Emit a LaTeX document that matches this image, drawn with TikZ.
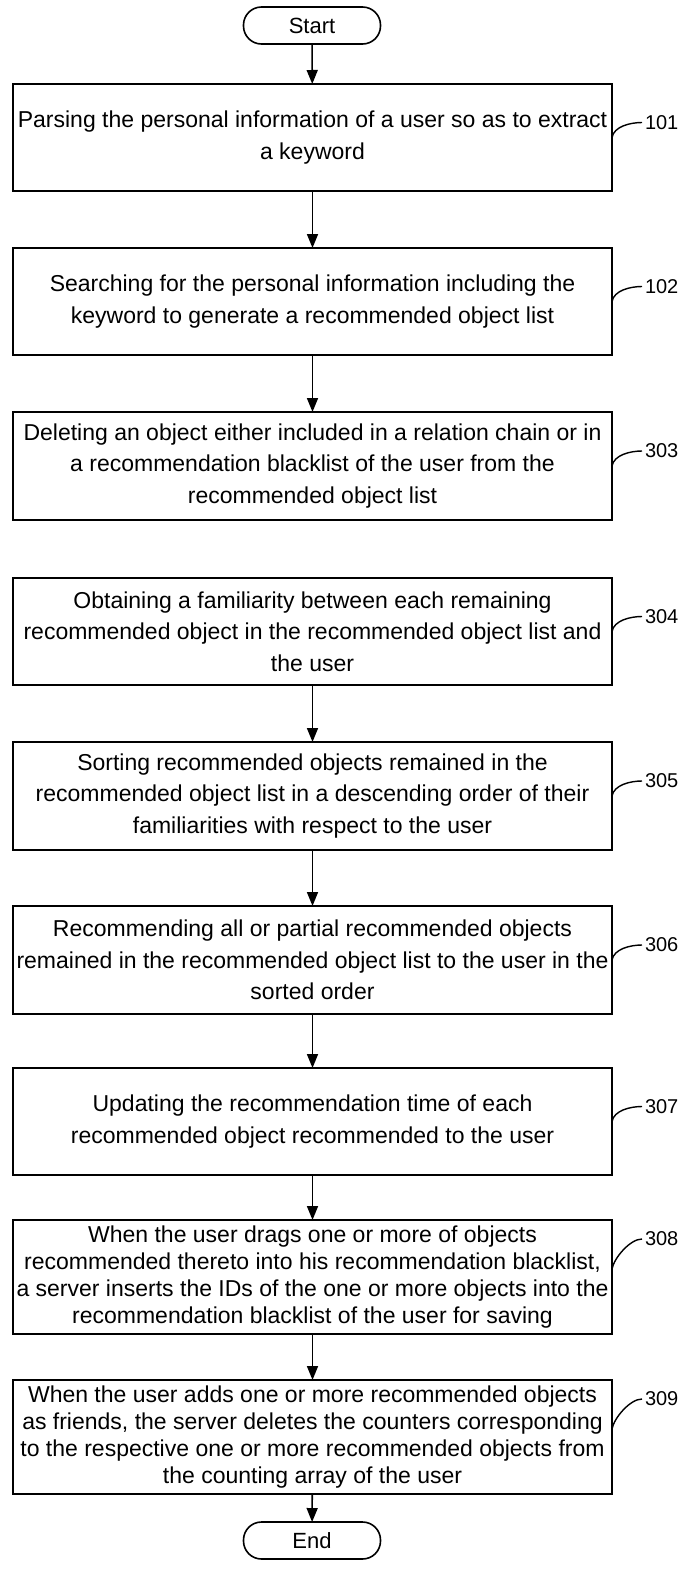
\documentclass[tikz,border=0pt]{standalone}
\usepackage{fontspec}
\setmainfont{Liberation Sans}
\usetikzlibrary{arrows.meta}
\begin{document}
\begin{tikzpicture}[x=1pt,y=-1pt,
  every node/.style={inner sep=0pt,outer sep=0pt},
  stepbox/.style={draw,line width=1.6pt,minimum width=599pt},
  txt/.style={align=center,font=\fontsize{23}{31.5}\selectfont},
  txtfour/.style={align=center,font=\fontsize{23}{27}\selectfont},
  term/.style={draw,line width=1.6pt,rounded corners=18pt,minimum width=137pt,minimum height=37pt,font=\fontsize{22}{25}\selectfont},
  flow/.style={line width=1.6pt,-{Triangle[length=14pt,width=11pt]}},
  lead/.style={line width=1.4pt},
  num/.style={anchor=west,font=\fontsize{20}{24}\selectfont}
]
\useasboundingbox (0,0) rectangle (686,1572);
\node[term] (start) at (312,25.5) {Start};
\node[stepbox,minimum height=107pt] (b101) at (312.5,137.5) {};
\node[txt] at (b101) {Parsing the personal information of a user so as to extract\\a keyword};
\node[stepbox,minimum height=107pt] (b102) at (312.5,301.5) {};
\node[txt] at (b102) {Searching for the personal information including the\\keyword to generate a recommended object list};
\node[stepbox,minimum height=108pt] (b303) at (312.5,466) {};
\node[txt] at (b303) {Deleting an object either included in a relation chain or in\\a recommendation blacklist of the user from the\\recommended object list};
\node[stepbox,minimum height=107pt] (b304) at (312.5,631.5) {};
\node[txt] at (b304) {Obtaining a familiarity between each remaining\\recommended object in the recommended object list and\\the user};
\node[stepbox,minimum height=108pt] (b305) at (312.5,796) {};
\node[txt] at (b305) {Sorting recommended objects remained in the\\recommended object list in a descending order of their\\familiarities with respect to the user};
\node[stepbox,minimum height=108pt] (b306) at (312.5,960) {};
\node[txt] at (b306) {Recommending all or partial recommended objects\\remained in the recommended object list to the user in the\\sorted order};
\node[stepbox,minimum height=107pt] (b307) at (312.5,1121.5) {};
\node[txt] at (b307) {Updating the recommendation time of each\\recommended object recommended to the user};
\node[stepbox,minimum height=114pt] (b308) at (312.5,1277) {};
\node[txtfour] at (b308) {When the user drags one or more of objects\\recommended thereto into his recommendation blacklist,\\a server inserts the IDs of the one or more objects into the\\recommendation blacklist of the user for saving};
\node[stepbox,minimum height=114pt] (b309) at (312.5,1437) {};
\node[txtfour] at (b309) {When the user adds one or more recommended objects\\as friends, the server deletes the counters corresponding\\to the respective one or more recommended objects from\\the counting array of the user};
\node[term] (end) at (312,1540.5) {End};

\draw[flow] (start) -- (b101);
\draw[flow] (b101) -- (b102);
\draw[flow] (b102) -- (b303);
\draw[flow] (b304) -- (b305);
\draw[flow] (b305) -- (b306);
\draw[flow] (b306) -- (b307);
\draw[flow] (b307) -- (b308);
\draw[flow] (b308) -- (b309);
\draw[flow] (b309) -- (end);

\foreach \b/\t/\ly/\cy in {b101/101/15/0,b102/102/15/0,b303/303/15/0,b304/304/15/0,b305/305/15/0,b306/306/15/0,b307/307/15/0,b308/308/38/8,b309/309/38/8}{
  \node[num] (l\t) at ([xshift=33pt,yshift=\ly pt]\b.east) {\t};
  \draw[lead] ([yshift=\cy pt]\b.east) .. controls +(2,-11) and +(-12,0) .. ([xshift=-3pt]l\t.west);
}
\end{tikzpicture}
\end{document}
